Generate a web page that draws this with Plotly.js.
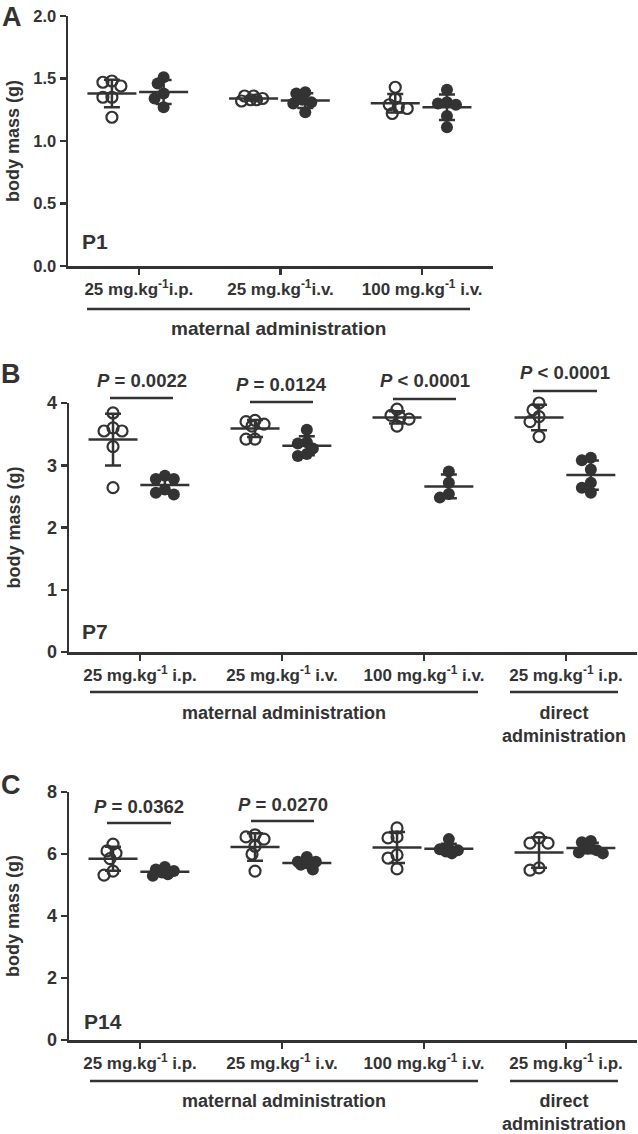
<!DOCTYPE html>
<html>
<head>
<meta charset="utf-8">
<script src="https://cdn.plot.ly/plotly-3.0.1.min.js"></script>
<style>html,body{margin:0;padding:0;background:#fff}#chart{width:638px;height:1134px}</style>
</head>
<body>
<div id="chart"></div>
<script>
// ---------------- DATA ----------------
const catP1 = ['25 mg.kg<sup>-1</sup>i.p.', '25 mg.kg<sup>-1</sup>i.v.', '100 mg.kg<sup>-1</sup> i.v.'];
const catP7 = ['25 mg.kg<sup>-1</sup> i.p.', '25 mg.kg<sup>-1</sup> i.v.', '100 mg.kg<sup>-1</sup> i.v.', '25 mg.kg<sup>-1</sup> i.p.'];
const catP14 = ['25 mg.kg<sup>-1</sup> i.p.', '25 mg.kg<sup>-1</sup> i.v.', '100 mg.kg<sup>-1</sup> i.v.', '25 mg.kg<sup>-1</sup> i.p.'];

// open circles (control) and filled circles (treated), one list per category
const P1_open = [[1.47,1.48,1.44,1.35,1.35,1.19],[1.36,1.36,1.34,1.33,1.33,1.32],[1.43,1.34,1.29,1.27,1.26,1.22]];
const P1_filled = [[1.51,1.46,1.38,1.34,1.27],[1.39,1.38,1.33,1.31,1.30,1.23],[1.41,1.31,1.30,1.29,1.20,1.11]];
const P7_open = [[3.84,3.60,3.55,3.55,3.30,2.64],[3.72,3.70,3.66,3.63,3.42,3.42],[3.90,3.80,3.77,3.74,3.63],[4.00,3.89,3.78,3.70,3.46]];
const P7_filled = [[2.83,2.78,2.78,2.61,2.56,2.53],[3.57,3.37,3.35,3.27,3.18,3.15],[2.90,2.72,2.54,2.48],[3.12,3.08,2.93,2.72,2.64,2.56]];
const P14_open = [[6.32,6.10,6.03,5.85,5.45,5.32],[6.62,6.55,6.48,6.25,6.00,5.45],[6.84,6.55,6.52,5.97,5.87,5.52],[6.52,6.35,6.35,5.55,5.48]];
const P14_filled = [[5.58,5.50,5.45,5.40,5.35,5.30],[5.90,5.75,5.75,5.70,5.65,5.50],[6.48,6.18,6.15,6.12,6.08,6.02],[6.42,6.38,6.18,6.12,6.05,6.02]];

const P7_pvalues = ['<i>P</i> = 0.0022', '<i>P</i> = 0.0124', '<i>P</i> < 0.0001', '<i>P</i> < 0.0001'];
const P14_pvalues = ['<i>P</i> = 0.0362', '<i>P</i> = 0.0270'];

const yTitle = 'body mass (g)';
const groupMaternal = 'maternal administration';
const groupDirect = 'direct<br>administration';

// ---------------- STYLE / LAYOUT ----------------
const W = 638, H = 1134;
const INK = '#333333';
const FONT = 'Liberation Sans, Arial, Helvetica, sans-serif';
const px = v => v / W;
const py = v => 1 - v / H;

const panels = [
  { id: '', open: P1_open, filled: P1_filled, cats: catP1, x0: 68, x1: 493, yTop: 16, yBot: 266, yMax: 2, dtick: 0.5, fmt: '.1f', yTickSize: 16.5,
    letter: 'A', letterPos: [12, 17], tag: 'P1', tagPos: [95, 242],
    mat: [87, 470, 309, 328], matSize: 19, dir: null, sig: [], pv: [] },
  { id: '2', open: P7_open, filled: P7_filled, cats: catP7, x0: 69, x1: 637, yTop: 403, yBot: 652, yMax: 4, dtick: 1, fmt: 'd', yTickSize: 18,
    letter: 'B', letterPos: [11, 374], tag: 'P7', tagPos: [95, 631],
    mat: [90, 478, 692, 713], matSize: 18, dir: [510, 618, 692, 724],
    sig: [[110, 173, 398, 380], [250, 313, 402, 385], [393, 456, 399, 380], [533, 597, 391, 372]], pv: P7_pvalues },
  { id: '3', open: P14_open, filled: P14_filled, cats: catP14, x0: 69, x1: 637, yTop: 792, yBot: 1040, yMax: 8, dtick: 2, fmt: 'd', yTickSize: 18,
    letter: 'C', letterPos: [11, 785], tag: 'P14', tagPos: [103, 1021],
    mat: [90, 478, 1081, 1101], matSize: 18, dir: [510, 618, 1081, 1112],
    sig: [[107, 171, 823, 806], [251, 314, 821, 804]], pv: P14_pvalues }
];

const OPEN_OFF = -0.19, FILL_OFF = 0.175;

function mean(a) { return a.reduce((s, v) => s + v, 0) / a.length; }
function sd(a) { const m = mean(a); return Math.sqrt(a.reduce((s, v) => s + (v - m) * (v - m), 0) / (a.length - 1)); }

// capped beeswarm: horizontal pixel offsets (|offset| <= maxW), overlapping when crowded
function swarm(vals, pxPerUnit, D, step, maxW) {
  const order = vals.map((v, i) => i).sort((a, b) => vals[b] - vals[a]);
  const cands = [0];
  for (let k = 1; k * step <= maxW + 1e-9; k++) cands.push(-k * step, k * step);
  const placed = [], offs = new Array(vals.length).fill(0);
  order.forEach(i => {
    const yp = vals[i] * pxPerUnit;
    let best = null, bestD = -1;
    for (const c of cands) {
      const d = placed.length ? Math.min(...placed.map(p => Math.hypot(p.x - c, p.y - yp))) : Infinity;
      if (d >= D) { best = c; bestD = d; break; }
      if (d > bestD + 0.5) { bestD = d; best = c; }
    }
    offs[i] = best; placed.push({ x: best, y: yp });
  });
  return offs;
}

const traces = [];
const shapes = [];
const annotations = [];
const layout = {
  width: W, height: H, margin: { l: 0, r: 0, t: 0, b: 0 },
  paper_bgcolor: '#fff', plot_bgcolor: '#fff', showlegend: false,
  font: { family: FONT, color: INK, weight: 'bold' }
};

panels.forEach(P => {
  const xa = 'x' + P.id, ya = 'y' + P.id;
  const nCat = P.cats.length;
  const pxPerCat = (P.x1 - P.x0) / nCat;
  const pxPerUnit = (P.yBot - P.yTop) / P.yMax;

  layout['xaxis' + P.id] = {
    domain: [px(P.x0), px(P.x1)], anchor: ya, range: [-0.5, nCat - 0.5],
    tickmode: 'array', tickvals: P.cats.map((c, i) => i), ticktext: P.cats,
    showline: true, linewidth: 2.5, linecolor: INK, ticks: 'outside', ticklen: 6, tickwidth: 2.5, tickcolor: INK,
    showgrid: false, zeroline: false, fixedrange: true,
    tickfont: { family: FONT, size: 17, color: INK, weight: 'bold' }
  };
  layout['yaxis' + P.id] = {
    domain: [py(P.yBot), py(P.yTop)], anchor: xa, range: [0, P.yMax],
    tick0: 0, dtick: P.dtick, tickformat: P.fmt,
    showline: true, linewidth: 2.5, linecolor: INK, ticks: 'outside', ticklen: 6, tickwidth: 2.5, tickcolor: INK,
    showgrid: false, zeroline: false, fixedrange: true,
    tickfont: { family: FONT, size: P.yTickSize, color: INK, weight: 'bold' }
  };

  [[P.open, OPEN_OFF, 'circle-open'], [P.filled, FILL_OFF, 'circle']].forEach(([series, off, sym]) => {
    const xs = [], ys = [];
    series.forEach((vals, ci) => {
      const o = swarm(vals, pxPerUnit, 8, 3, 12);
      vals.forEach((v, j) => { xs.push(ci + off + o[j] / pxPerCat); ys.push(v); });
    });
    traces.push({
      type: 'scatter', mode: 'markers', x: xs, y: ys, xaxis: xa, yaxis: ya, cliponaxis: false, hoverinfo: 'skip',
      marker: sym === 'circle'
        ? { symbol: 'circle', size: 12, color: INK, line: { width: 0 } }
        : { symbol: 'circle-open', size: 11, color: INK, line: { width: 2.2, color: INK } }
    });
  });
  [[P.open, OPEN_OFF], [P.filled, FILL_OFF]].forEach(([series, off]) => {
    traces.push({
      type: 'scatter', mode: 'markers', xaxis: xa, yaxis: ya, cliponaxis: false, hoverinfo: 'skip',
      x: series.map((v, ci) => ci + off), y: series.map(mean),
      marker: { symbol: 'line-ew', size: 35, color: INK, line: { width: 2.5, color: INK } },
      error_y: { type: 'data', array: series.map(sd), visible: true, color: INK, thickness: 2.5, width: 8 }
    });
  });

  // annotations
  annotations.push({ xref: 'paper', yref: 'paper', x: px(P.letterPos[0]), y: py(P.letterPos[1]), text: P.letter, showarrow: false,
    xanchor: 'center', yanchor: 'middle', font: { family: FONT, size: 27, color: INK, weight: 'bold' } });
  annotations.push({ xref: 'paper', yref: 'paper', x: px(P.tagPos[0]), y: py(P.tagPos[1]), text: P.tag, showarrow: false,
    xanchor: 'center', yanchor: 'middle', font: { family: FONT, size: 21, color: INK, weight: 'bold' } });
  annotations.push({ xref: 'paper', yref: 'paper', x: px(13), y: py((P.yTop + P.yBot) / 2), text: yTitle, textangle: -90, showarrow: false,
    xanchor: 'center', yanchor: 'middle', font: { family: FONT, size: 18, color: INK, weight: 'bold' } });

  shapes.push({ type: 'line', xref: 'paper', yref: 'paper', x0: px(P.mat[0]), x1: px(P.mat[1]), y0: py(P.mat[2]), y1: py(P.mat[2]), line: { color: INK, width: 2.5 } });
  annotations.push({ xref: 'paper', yref: 'paper', x: px((P.mat[0] + P.mat[1]) / 2), y: py(P.mat[3]), text: groupMaternal, showarrow: false,
    xanchor: 'center', yanchor: 'middle', font: { family: FONT, size: P.matSize, color: INK, weight: 'bold' } });
  if (P.dir) {
    shapes.push({ type: 'line', xref: 'paper', yref: 'paper', x0: px(P.dir[0]), x1: px(P.dir[1]), y0: py(P.dir[2]), y1: py(P.dir[2]), line: { color: INK, width: 2.5 } });
    annotations.push({ xref: 'paper', yref: 'paper', x: px((P.dir[0] + P.dir[1]) / 2), y: py(P.dir[3]), text: groupDirect, showarrow: false,
      xanchor: 'center', yanchor: 'middle', font: { family: FONT, size: P.matSize, color: INK, weight: 'bold' } });
  }
  P.sig.forEach((s, i) => {
    shapes.push({ type: 'line', xref: 'paper', yref: 'paper', x0: px(s[0]), x1: px(s[1]), y0: py(s[2]), y1: py(s[2]), line: { color: INK, width: 2.5 } });
    annotations.push({ xref: 'paper', yref: 'paper', x: px((s[0] + s[1]) / 2), y: py(s[3]), text: P.pv[i], showarrow: false,
      xanchor: 'center', yanchor: 'middle', font: { family: FONT, size: 18.5, color: INK, weight: 'bold' } });
  });
});

layout.shapes = shapes;
layout.annotations = annotations;

Plotly.newPlot('chart', traces, layout, { displayModeBar: false, staticPlot: true });
</script>
</body>
</html>
